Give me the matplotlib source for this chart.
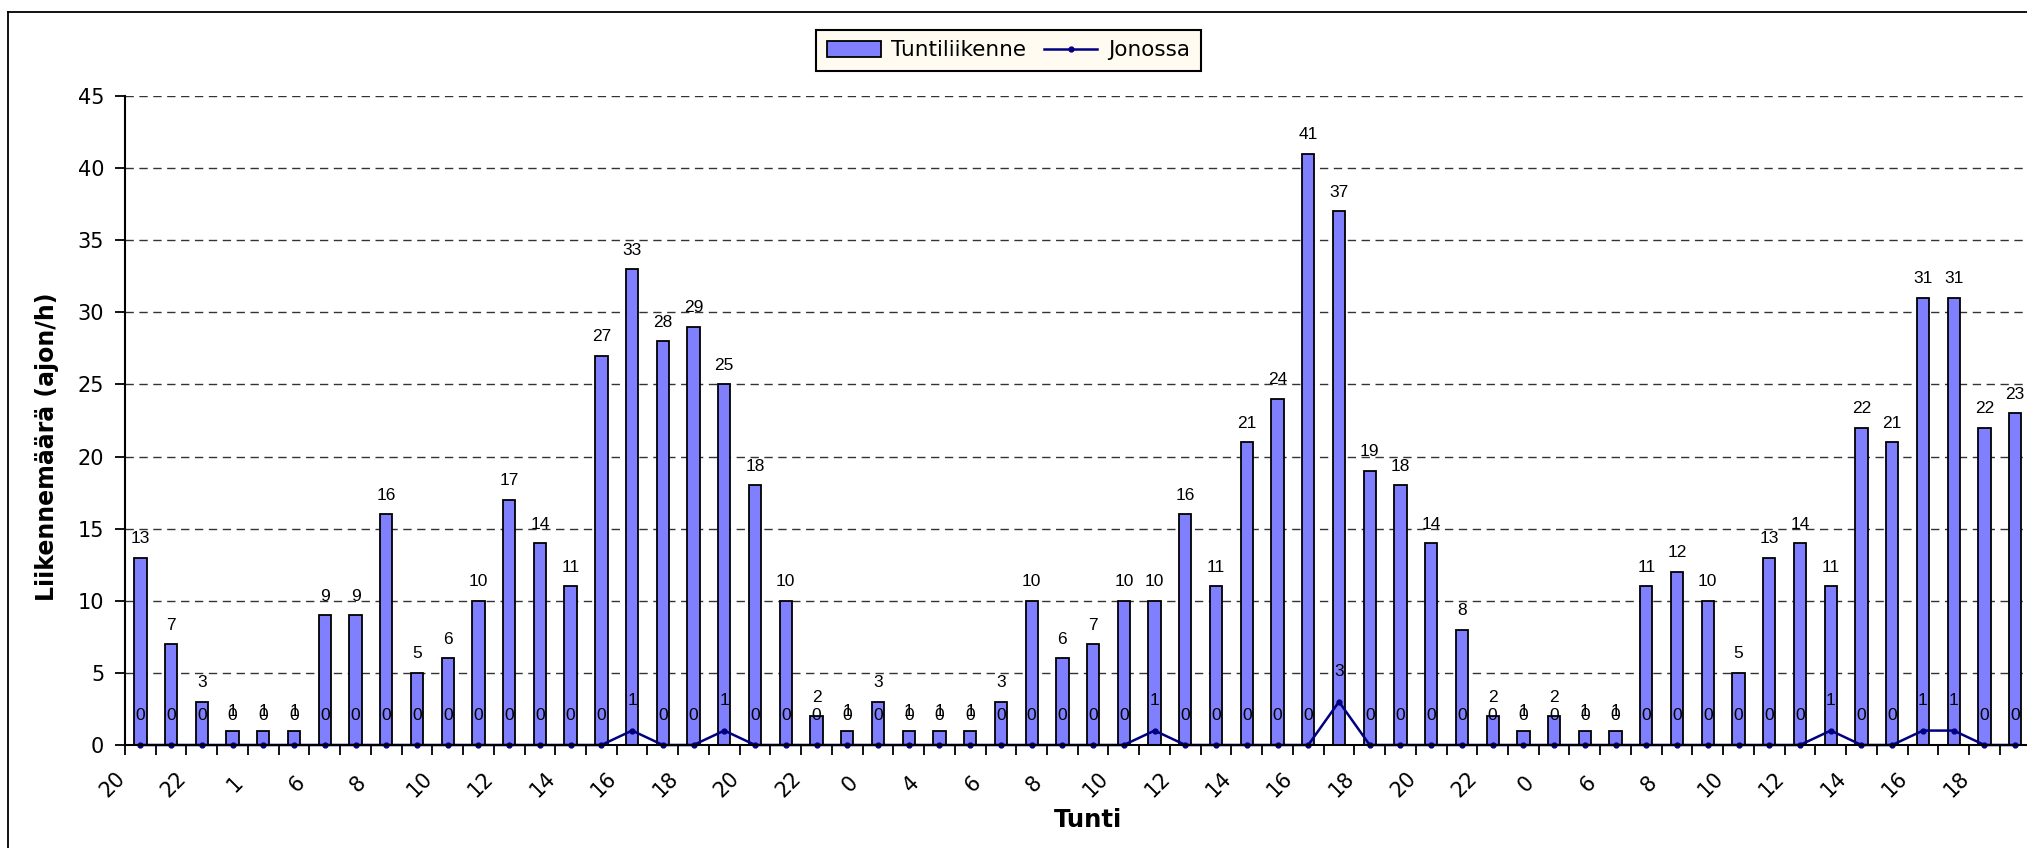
import matplotlib
matplotlib.use("Agg")
import matplotlib.pyplot as plt
import matplotlib.transforms as mtransforms
from matplotlib.lines import Line2D

# ---------------- data ----------------
hours = [20, 21, 22, 23, 1, 5, 6, 7, 8, 9, 10, 11, 12, 13, 14, 15, 16, 17, 18, 19, 20, 21,
         22, 23, 0, 3, 4, 5, 6, 7, 8, 9, 10, 11, 12, 13, 14, 15, 16, 17, 18, 19, 20, 21,
         22, 23, 0, 5, 6, 7, 8, 9, 10, 11, 12, 13, 14, 15, 16, 17, 18, 19]
tuntiliikenne = [13, 7, 3, 1, 1, 1, 9, 9, 16, 5, 6, 10, 17, 14, 11, 27, 33, 28, 29, 25, 18,
                 10, 2, 1, 3, 1, 1, 1, 3, 10, 6, 7, 10, 10, 16, 11, 21, 24, 41, 37, 19, 18,
                 14, 8, 2, 1, 2, 1, 1, 11, 12, 10, 5, 13, 14, 11, 22, 21, 31, 31, 22, 23]
jonossa = [0, 0, 0, 0, 0, 0, 0, 0, 0, 0, 0, 0, 0, 0, 0, 0, 1, 0, 0, 1, 0,
           0, 0, 0, 0, 0, 0, 0, 0, 0, 0, 0, 0, 1, 0, 0, 0, 0, 0, 3, 0, 0,
           0, 0, 0, 0, 0, 0, 0, 0, 0, 0, 0, 0, 0, 1, 0, 0, 1, 1, 0, 0]
series_names = ["Tuntiliikenne", "Jonossa"]
y_ticks = [0, 5, 10, 15, 20, 25, 30, 35, 40, 45]
x_title = "Tunti"
y_title = "Liikennemäärä (ajon/h)"

# ---------------- style ----------------
plt.rcParams["font.family"] = "DejaVu Sans"
LABEL_FONT = "Liberation Sans"

BAR_COLOR = "#8080FF"
LINE_COLOR = "#000080"

W, H, DPI = 2027, 848, 100
fig = plt.figure(figsize=(W / DPI, H / DPI), dpi=DPI)
fig.patch.set_facecolor("white")

# axes placement (pixel based)
ax_left, ax_right, ax_top, ax_bottom = 125.0, 2030.5, 96.0, 745.0
ax = fig.add_axes([ax_left / W, 1 - ax_bottom / H, (ax_right - ax_left) / W, (ax_bottom - ax_top) / H])
ax.set_facecolor("none")

n = len(tuntiliikenne)
xs = list(range(n))

bars = ax.bar(xs, tuntiliikenne, width=0.4, color=BAR_COLOR, edgecolor="black", linewidth=1.3,
              label=series_names[0], zorder=3)
line, = ax.plot(xs, jonossa, color=LINE_COLOR, linewidth=1.8, marker="o", markersize=3.5,
                label=series_names[1], zorder=4, clip_on=False)

ax.set_xlim(-0.5, n - 0.5)
ax.set_ylim(0, 45)

# grid
ax.set_yticks(y_ticks)
ax.yaxis.grid(True, linestyle=(0, (6, 4)), color="#333333", linewidth=1.0, zorder=0)
ax.set_axisbelow(True)

# spines
for s in ["top", "right"]:
    ax.spines[s].set_visible(False)
ax.spines["left"].set_linewidth(1.5)
ax.spines["bottom"].set_linewidth(1.5)
ax.spines["bottom"].set_zorder(5)

# y tick labels
ax.tick_params(axis="y", direction="out", length=7, width=1.3, pad=8, labelsize=15)

# x ticks at category boundaries, labels as rotated text at every other category
ax.set_xticks([i - 0.5 for i in range(n + 1)])
ax.set_xticklabels([])
ax.tick_params(axis="x", direction="out", length=7, width=1.3)

lab_off = mtransforms.ScaledTranslation(-28 / DPI, -39.5 / DPI, fig.dpi_scale_trans)
lab_trans = mtransforms.blended_transform_factory(ax.transData, ax.transAxes) + lab_off
for i in range(0, n, 2):
    ax.text(i, 0, str(hours[i]), transform=lab_trans, rotation=45, ha="center", va="center",
            fontsize=15, clip_on=False)

# data labels
for i in xs:
    ax.annotate(str(tuntiliikenne[i]), (i, tuntiliikenne[i]), xytext=(0, 13.7),
                textcoords="offset points", ha="center", va="center", fontsize=12.5,
                family=LABEL_FONT, zorder=6, annotation_clip=False)
    ax.annotate(str(jonossa[i]), (i, jonossa[i]), xytext=(0, 21.6),
                textcoords="offset points", ha="center", va="center", fontsize=12.5,
                family=LABEL_FONT, zorder=6, annotation_clip=False)

# axis titles
fig.text(47 / W, 1 - 447 / H, y_title, rotation=90, ha="center", va="center",
         fontsize=17, fontweight="bold")
fig.text(1088 / W, 1 - 820 / H, x_title, ha="center", va="center",
         fontsize=17.5, fontweight="bold")

# legend
leg = fig.legend([bars, line], series_names, loc="center",
                 bbox_to_anchor=(1008.5 / W, 1 - 50.5 / H), ncol=2,
                 fontsize=15.5, frameon=True, fancybox=False, handlelength=2.5,
                 handletextpad=0.5, columnspacing=0.8, borderpad=0.5)
fr = leg.get_frame()
fr.set_facecolor("#FFFBF0")
fr.set_edgecolor("black")
fr.set_linewidth(1.5)
fr.set_alpha(1.0)

# outer chart border (left and top edges visible in the crop)
fig.add_artist(Line2D([8 / W, 8 / W], [0, 1 - 12 / H], transform=fig.transFigure,
                      color="black", linewidth=1.3))
fig.add_artist(Line2D([8 / W, 1], [1 - 12 / H, 1 - 12 / H], transform=fig.transFigure,
                      color="black", linewidth=1.3))

fig.savefig("out.png", dpi=DPI)
